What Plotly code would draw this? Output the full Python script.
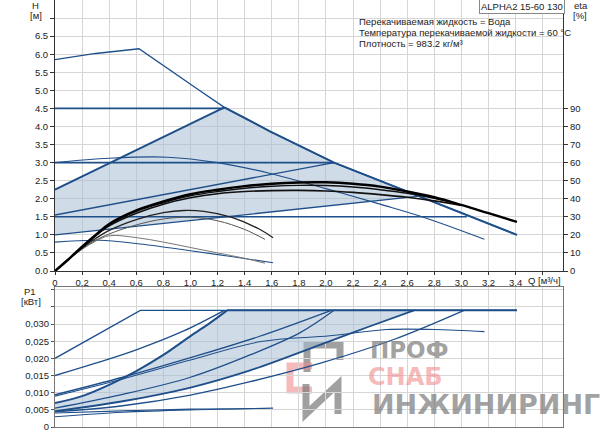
import numpy as np
import plotly.graph_objects as go

# ---- head curves (Q m3/h -> H m) ----
max_q = [0, 0.3, 0.62, 0.83, 1.07, 1.25, 1.59, 2.06, 2.6, 3.0, 3.41]
max_h = [5.85, 6.02, 6.15, 5.62, 4.99, 4.53, 3.86, 3.0, 2.2, 1.6, 1.0]
spd3_q = [0, 0.4, 0.83, 1.2, 1.59, 2.0, 2.4, 2.72, 3.17]
spd3_h = [3.0, 3.12, 3.15, 3.0, 2.7, 2.28, 1.85, 1.49, 0.88]
spd1_q = [0, 0.33, 0.6, 1.0, 1.3, 1.61]
spd1_h = [0.8, 0.85, 0.76, 0.56, 0.4, 0.23]
pp_hi_q, pp_hi_h = [0, 1.25], [2.25, 4.53]
pp_mid_q, pp_mid_h = [0, 2.06], [1.55, 3.0]
pp_lo_q, pp_lo_h = [0, 2.69], [1.0, 2.07]
cp_hi_q, cp_hi_h = [0, 1.25], [4.5, 4.5]
cp_mid_q, cp_mid_h = [0, 2.06], [3.0, 3.0]
cp_lo_q, cp_lo_h = [0, 3.04], [1.5, 1.5]
area_q = [0, 1.25, 1.59, 2.06, 2.6, 2.69, 0]
area_h = [2.25, 4.53, 3.86, 3.0, 2.2, 2.07, 1.0]

# ---- efficiency curves (eta %) ----
eta1_q = [0, 0.1, 0.2, 0.3, 0.4, 0.6, 0.8, 1.0, 1.2, 1.4, 1.6, 1.8, 2.0, 2.2, 2.4, 2.6, 2.8, 3.0, 3.2, 3.41]
eta1 = [0, 6.5, 13.5, 20, 26, 33.5, 38.5, 42.5, 45, 47, 48.3, 49, 49.1, 48.3, 46.7, 44, 40.8, 36.6, 32, 27.2]
eta1b_q = [0, 0.1, 0.2, 0.3, 0.4, 0.6, 0.8, 1.0, 1.2, 1.4, 1.6, 1.8, 2.0, 2.2, 2.4, 2.6, 2.8, 2.95]
eta1b = [0, 6.4, 13.2, 19.6, 25.5, 33, 37.8, 41.6, 44, 45.8, 46.9, 47.4, 47.3, 46.5, 45, 43, 40.2, 37.5]
eta2_q = [0, 0.1, 0.2, 0.3, 0.4, 0.6, 0.8, 1.0, 1.2, 1.4, 1.6, 1.8, 2.0, 2.2, 2.4, 2.6, 2.8, 3.0]
eta2 = [0, 6.5, 13, 19.5, 25, 32, 37, 40.5, 42.8, 44, 44.5, 44.6, 44.3, 43.5, 42.3, 40.8, 38.8, 36.3]
eta3_q = [0, 0.1, 0.2, 0.3, 0.4, 0.6, 0.8, 0.95, 1.1, 1.3, 1.5, 1.61]
eta3 = [0, 6.5, 12.8, 18, 22.5, 28.5, 32.3, 33.5, 33, 29.8, 23.5, 18.4]
eta4_q = [0, 0.1, 0.2, 0.3, 0.4, 0.6, 0.8, 1.0, 1.2, 1.4, 1.55]
eta4 = [0, 6.3, 12.3, 17, 20.5, 25.5, 28.8, 29.8, 27.8, 23, 17.5]
eta5_q = [0, 0.1, 0.2, 0.3, 0.4, 0.6, 0.8, 1.0, 1.2, 1.4, 1.55]
eta5 = [0, 6.3, 12, 16.5, 19.5, 18.5, 16, 13, 10, 7, 4.3]

# ---- power curves (P1 kW) ----
pw_max_q, pw_max = [0, 0.63, 3.41], [0.020, 0.034, 0.034]
pw_cp_hi_q = [0, 0.3, 0.6, 0.95, 1.25]
pw_cp_hi = [0.015, 0.0186, 0.0225, 0.028, 0.034]
pw_pp_hi_q = [0, 0.2, 0.4, 0.6, 0.8, 1.0, 1.15, 1.27]
pw_pp_hi = [0.007, 0.009, 0.0123, 0.0163, 0.021, 0.0265, 0.0305, 0.034]
pw_cp_mid_q = [0, 0.5, 1.0, 1.5, 2.04]
pw_cp_mid = [0.0094, 0.0145, 0.0202, 0.0263, 0.034]
pw_spd3_q = [0, 0.5, 1.0, 1.52, 2.03, 2.45, 2.8, 3.17]
pw_spd3 = [0.009, 0.014, 0.0195, 0.0249, 0.0266, 0.0284, 0.0284, 0.0278]
pw_pp_mid_q = [0, 0.5, 1.0, 1.44, 1.81, 2.06]
pw_pp_mid = [0.0055, 0.0095, 0.0145, 0.021, 0.0275, 0.034]
pw_pp_lo_q = [0, 0.5, 1.0, 1.44, 1.96, 2.3, 2.65]
pw_pp_lo = [0.0046, 0.0075, 0.0115, 0.0165, 0.024, 0.029, 0.034]
pw_cp_lo_q = [0, 0.5, 1.0, 1.44, 1.96, 2.5, 3.02]
pw_cp_lo = [0.0044, 0.0062, 0.0093, 0.0132, 0.0186, 0.0255, 0.034]
pw_spd1_q, pw_spd1 = [0, 0.5, 1.0, 1.61], [0.003, 0.0043, 0.005, 0.0055]
pw_spd1b_q, pw_spd1b = [0, 0.5, 1.0, 1.55], [0.0041, 0.0047, 0.0052, 0.0054]
pw_area_q = [0, 0.2, 0.4, 0.6, 0.8, 1.0, 1.15, 1.27, 2.65, 2.3, 1.96, 1.44, 1.0, 0.5, 0]
pw_area = [0.007, 0.009, 0.0123, 0.0163, 0.021, 0.0265, 0.0305, 0.034, 0.034,
           0.029, 0.024, 0.0165, 0.0115, 0.0075, 0.0046]

q_ticks = [round(v * 0.2, 1) for v in range(19)]
q_labels = [("%.1f" % v).replace(".", ",") for v in q_ticks[:-1]] + [""]
q_labels[0] = "0"
h_ticks = [v * 0.5 for v in range(15)]
h_labels = ["%.1f" % v for v in h_ticks[:-1]] + [""]
eta_ticks = list(range(0, 100, 10))
p_ticks = [v * 0.005 for v in range(9)]
p_labels = ["0", "0,005", "0,010", "0,015", "0,020", "0,025", "0,030", "", ""]

BLUE = "#1f4f8a"
FILL = "rgba(168,190,212,0.55)"
FONT = "Liberation Sans, Arial, sans-serif"


def px(x):
    return (x - 55) / 508.0


def py(y):
    return (427 - y) / 427.0


fig = go.Figure()

# shaded areas
fig.add_trace(go.Scatter(x=area_q, y=area_h, fill="toself", fillcolor=FILL,
                         line=dict(width=0), mode="lines", xaxis="x", yaxis="y"))
fig.add_trace(go.Scatter(x=pw_area_q, y=pw_area, fill="toself", fillcolor=FILL,
                         line=dict(width=0), mode="lines", xaxis="x2", yaxis="y3"))

# (q, h, width, shape)
head = [(max_q, max_h, 1.3, "linear"), (spd3_q, spd3_h, 1.1, "spline"),
        (spd1_q, spd1_h, 1.1, "spline"),
        (pp_hi_q, pp_hi_h, 2, "linear"), (pp_mid_q, pp_mid_h, 1.3, "linear"),
        (pp_lo_q, pp_lo_h, 1.3, "linear"),
        (cp_hi_q, cp_hi_h, 1.6, "linear"), (cp_mid_q, cp_mid_h, 1.6, "linear"),
        (cp_lo_q, cp_lo_h, 1.6, "linear"),
        (max_q[5:], max_h[5:], 2, "linear")]
for q, h, w, s in head:
    fig.add_trace(go.Scatter(x=q, y=h, mode="lines", line=dict(color=BLUE, width=w, shape=s),
                             xaxis="x", yaxis="y"))

effs = [(eta5_q, eta5, "#777777", 1), (eta4_q, eta4, "#555555", 1),
        (eta3_q, eta3, "#222222", 1.3), (eta2_q, eta2, "#111111", 1.6),
        (eta1b_q, eta1b, "#111111", 1.4), (eta1_q, eta1, "#000000", 2.4)]
for q, e, c, w in effs:
    fig.add_trace(go.Scatter(x=q, y=e, mode="lines", line=dict(color=c, width=w, shape="spline"),
                             xaxis="x", yaxis="y2"))

power = [(pw_max_q, pw_max, 1.3, "linear"), (pw_cp_hi_q, pw_cp_hi, 1.3, "spline"),
         (pw_pp_hi_q, pw_pp_hi, 2, "spline"),
         (pw_cp_mid_q, pw_cp_mid, 1.3, "spline"), (pw_spd3_q, pw_spd3, 1.1, "spline"),
         (pw_pp_mid_q, pw_pp_mid, 1.3, "spline"), (pw_pp_lo_q, pw_pp_lo, 1.8, "spline"),
         (pw_cp_lo_q, pw_cp_lo, 1.3, "spline"), (pw_spd1_q, pw_spd1, 1.1, "spline"),
         (pw_spd1b_q, pw_spd1b, 1.1, "spline"),
         ([1.27, 3.41], [0.034, 0.034], 2, "linear")]
for q, p, w, s in power:
    fig.add_trace(go.Scatter(x=q, y=p, mode="lines", line=dict(color=BLUE, width=w, shape=s),
                             xaxis="x2", yaxis="y3"))

axis_font = dict(family=FONT, size=9.5, color="#222")
grid = "#d6d6d6"

fig.update_layout(
    width=600, height=434, showlegend=False,
    margin=dict(l=55, r=37, t=0, b=7, autoexpand=False),
    paper_bgcolor="white", plot_bgcolor="white",
    font=axis_font,
    xaxis=dict(domain=[0, 1], anchor="y", range=[0, 3.75], tickvals=q_ticks, ticktext=q_labels,
               showgrid=True, gridcolor=grid, zeroline=False, showline=True, linecolor="#333",
               ticks="outside", ticklen=3, tickcolor="#333", tickfont=axis_font),
    yaxis=dict(domain=[py(271), 1], anchor="x", range=[0, 7.5], tickvals=h_ticks, ticktext=h_labels,
               showgrid=True, gridcolor=grid, zeroline=False, showline=True, linecolor="#333",
               ticks="outside", ticklen=4, tickcolor="#333", tickfont=axis_font),
    yaxis2=dict(overlaying="y", side="right", anchor="x", range=[0, 150], tickvals=eta_ticks,
                showgrid=False, zeroline=False, showline=True, linecolor="#333",
                ticks="outside", ticklen=4, tickcolor="#333", tickfont=axis_font),
    xaxis2=dict(domain=[0, 1], anchor="y3", range=[0, 3.75], tickvals=q_ticks,
                showticklabels=False, showgrid=True, gridcolor=grid, zeroline=False,
                showline=True, mirror=True, linecolor="#777", ticks=""),
    yaxis3=dict(domain=[0, py(287)], anchor="x2", range=[0, 0.0408], tickvals=p_ticks,
                ticktext=p_labels, showgrid=True, gridcolor=grid, zeroline=False,
                showline=True, mirror=True, linecolor="#777",
                ticks="outside", ticklen=3, tickcolor="#555", tickfont=axis_font),
)

# white box behind the info text
fig.add_shape(type="rect", xref="paper", yref="paper", x0=px(353), x1=px(562),
              y0=py(50), y1=py(15), fillcolor="white", line=dict(width=0), layer="between")

# watermark
wm_grey = "rgba(120,120,120,0.7)"
wm_pink = "rgba(240,140,140,0.6)"
wm_paths = [([(307, 372), (307, 345), (340, 345), (340, 360)], wm_grey),
            ([(312, 366), (290, 366), (290, 390), (312, 390)], wm_pink),
            ([(306, 384), (306, 414), (338, 384), (338, 414)], wm_grey)]
for pts, col in wm_paths:
    path = "M " + " L ".join("%f,%f" % (px(a), py(b)) for a, b in pts)
    fig.add_shape(type="path", xref="paper", yref="paper", layer="between", path=path,
                  line=dict(color=col, width=7))
for txt, x, y, size, col in [("ПРОФ", 368, 350, 23, wm_grey), ("СНАБ", 366, 377, 24, wm_pink),
                             ("ИНЖИНИРИНГ", 370, 404, 27, wm_grey)]:
    fig.add_annotation(text="<b>%s</b>" % txt, xref="paper", yref="paper", x=px(x), y=py(y),
                       xanchor="left", yanchor="middle", showarrow=False,
                       font=dict(family="DejaVu Sans", size=size, color=col))

# texts
small = dict(family=FONT, size=9.5, color="#222")
for txt, x, y in [("H", 35, 5), ("[м]", 36, 15), ("eta", 581, 5), ("[%]", 580, 15),
                  ("P1", 30, 291), ("[кВт]", 31, 301), ("Q [м³/ч]", 544, 280)]:
    fig.add_annotation(text=txt, xref="paper", yref="paper", x=px(x), y=py(y),
                       xanchor="center", yanchor="middle", showarrow=False, font=small)

info = ["Перекачиваемая жидкость = Вода",
        "Температура перекачиваемой жидкости = 60 °C",
        "Плотность = 983.2 кг/м³"]
for i, txt in enumerate(info):
    fig.add_annotation(text=txt, xref="paper", yref="paper", x=px(357), y=py(22 + 10.7 * i),
                       xanchor="left", yanchor="middle", showarrow=False, font=small)

fig.add_annotation(text="ALPHA2 15-60 130", xref="paper", yref="paper", x=px(522), y=py(6.5),
                   xanchor="center", yanchor="middle", showarrow=False, font=small,
                   bgcolor="white", bordercolor="#888", borderwidth=1, borderpad=1)

fig.write_html("out.html", config={"displayModeBar": False},
               post_script="document.body.style.margin='0px';")
